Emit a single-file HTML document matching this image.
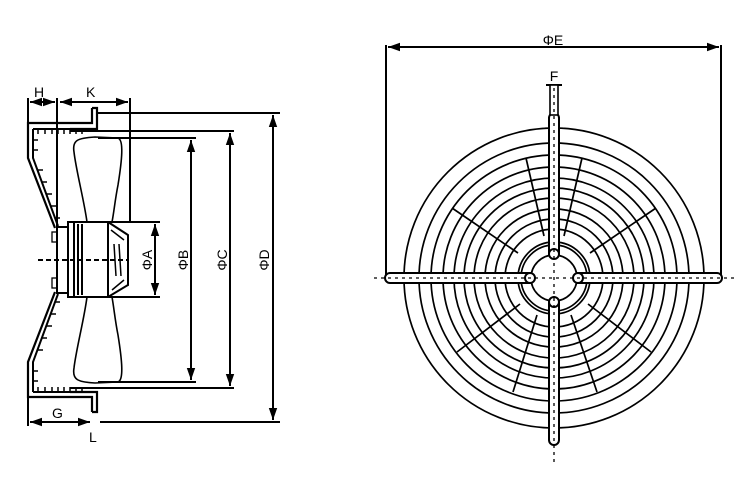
<!DOCTYPE html>
<html><head><meta charset="utf-8"><style>
html,body{margin:0;padding:0;background:#fff;}
svg{display:block;}
text{font-family:"Liberation Sans",sans-serif;font-size:14px;fill:#000;}
</style></head><body>
<svg width="750" height="500" viewBox="0 0 750 500" xmlns="http://www.w3.org/2000/svg">
<defs>
<marker id="ar" viewBox="0 0 10 10" refX="10" refY="5" markerWidth="6" markerHeight="6" orient="auto-start-reverse"><path d="M0,1.5 L10,5 L0,8.5 z" fill="#000"/></marker>
</defs>
<g stroke="#000" fill="none" stroke-width="2">
<!-- LEFT VIEW -->
<line x1="28" y1="98" x2="28" y2="123"/>
<line x1="57" y1="98" x2="57" y2="226"/>
<line x1="130" y1="98" x2="130" y2="222"/>
<line x1="30" y1="102" x2="55" y2="102" marker-start="url(#ar)" marker-end="url(#ar)"/>
<line x1="60" y1="102" x2="128" y2="102" marker-start="url(#ar)" marker-end="url(#ar)"/>
<path d="M92,108 L97,108 L97,129 L70,129 M92,108 L92,123 L28,123 L28,158 L55,228" stroke-width="2.2"/>
<path d="M33,129 L70,129 M33,129 L33,158 L58,226"/>
<path d="M92,412 L97,412 L97,392 L70,392 M92,412 L92,397 L28,397 L28,362 L55,292" stroke-width="2.2"/>
<path d="M33,392 L70,392 M33,392 L33,362 L58,294"/>
<g stroke-width="1.5">
<line x1="38" y1="129" x2="38" y2="134"/><line x1="45" y1="129" x2="45" y2="134"/><line x1="52" y1="129" x2="52" y2="134"/><line x1="58" y1="129" x2="58" y2="134"/><line x1="64" y1="129" x2="64" y2="134"/><line x1="70" y1="129" x2="70" y2="134"/><line x1="76" y1="129" x2="76" y2="134"/><line x1="82" y1="129" x2="82" y2="134"/>
<line x1="38" y1="392" x2="38" y2="387"/><line x1="45" y1="392" x2="45" y2="387"/><line x1="52" y1="392" x2="52" y2="387"/><line x1="58" y1="392" x2="58" y2="387"/><line x1="64" y1="392" x2="64" y2="387"/><line x1="70" y1="392" x2="70" y2="387"/><line x1="76" y1="392" x2="76" y2="387"/><line x1="82" y1="392" x2="82" y2="387"/>
<line x1="33" y1="140" x2="38" y2="140"/><line x1="33" y1="150" x2="38" y2="150"/><line x1="38" y1="170" x2="43" y2="170"/><line x1="42" y1="182" x2="47" y2="182"/><line x1="47" y1="194" x2="52" y2="194"/><line x1="51" y1="206" x2="56" y2="206"/><line x1="55" y1="218" x2="60" y2="218"/>
<line x1="33" y1="381" x2="38" y2="381"/><line x1="33" y1="371" x2="38" y2="371"/><line x1="38" y1="350" x2="43" y2="350"/><line x1="42" y1="338" x2="47" y2="338"/><line x1="47" y1="326" x2="52" y2="326"/><line x1="51" y1="314" x2="56" y2="314"/><line x1="55" y1="302" x2="60" y2="302"/>
</g>
<rect x="57" y="227" width="11" height="66"/>
<rect x="52" y="232" width="5" height="10" stroke-width="1.3"/>
<rect x="52" y="278" width="5" height="10" stroke-width="1.3"/>
<rect x="68" y="222" width="40" height="75"/>
<line x1="74" y1="222" x2="74" y2="297"/><line x1="78" y1="224" x2="78" y2="295"/><line x1="82" y1="224" x2="82" y2="295"/>
<path d="M108,222 L128,235 L128,285 L108,297"/>
<path d="M111,230 L124,240 M112,290 L124,280 M114,244 L116,276 M119,244 L121,276" stroke-width="1.5"/>
<path d="M87,222 C84,200 76,170 74,152 C72,140 78,138 95,137 L118,138 C124,140 122,160 118,185 C115,200 114,212 112,222" stroke-width="1.6"/>
<path d="M87,297 C84,320 76,350 74,368 C72,380 78,382 95,383 L118,382 C124,380 122,360 118,335 C115,320 114,308 112,297" stroke-width="1.6"/>
<line x1="38" y1="260" x2="128" y2="260" stroke-dasharray="5,3"/>
<line x1="108" y1="222" x2="160" y2="222"/><line x1="108" y1="297" x2="160" y2="297"/>
<line x1="155" y1="224" x2="155" y2="295" marker-start="url(#ar)" marker-end="url(#ar)"/>
<line x1="98" y1="138" x2="196" y2="138"/><line x1="98" y1="382" x2="196" y2="382"/>
<line x1="191" y1="140" x2="191" y2="380" marker-start="url(#ar)" marker-end="url(#ar)"/>
<line x1="70" y1="131" x2="234" y2="131"/><line x1="70" y1="388" x2="234" y2="388"/>
<line x1="230" y1="133" x2="230" y2="386" marker-start="url(#ar)" marker-end="url(#ar)"/>
<line x1="98" y1="113" x2="280" y2="113"/><line x1="100" y1="422" x2="280" y2="422"/>
<line x1="273" y1="115" x2="273" y2="420" marker-start="url(#ar)" marker-end="url(#ar)"/>
<line x1="28" y1="397" x2="28" y2="426"/>
<line x1="30" y1="422" x2="90" y2="422" marker-start="url(#ar)" marker-end="url(#ar)"/>

<!-- FRONT VIEW -->
<line x1="386" y1="45" x2="386" y2="278"/>
<line x1="721" y1="45" x2="721" y2="278"/>
<line x1="388" y1="47" x2="719" y2="47" marker-start="url(#ar)" marker-end="url(#ar)"/>
<line x1="546" y1="85" x2="562" y2="85"/>
<g stroke-width="1.7">
<circle cx="554" cy="278" r="150"/>
<circle cx="554" cy="278" r="135"/>
<circle cx="554" cy="278" r="123"/>
<circle cx="554" cy="278" r="111"/>
<circle cx="554" cy="278" r="100"/>
<circle cx="554" cy="278" r="90"/>
<circle cx="554" cy="278" r="80"/>
<circle cx="554" cy="278" r="69"/>
<circle cx="554" cy="278" r="59"/>
<circle cx="554" cy="278" r="49"/>
<circle cx="554" cy="278" r="36"/>
<circle cx="554" cy="278" r="33"/>
<line x1="544" y1="236" x2="526" y2="158"/>
<line x1="564" y1="236" x2="582" y2="158"/>
<line x1="518" y1="253" x2="452" y2="208"/>
<line x1="590" y1="253" x2="656" y2="208"/>
<line x1="520" y1="304" x2="457" y2="352"/>
<line x1="588" y1="304" x2="651" y2="352"/>
<line x1="537" y1="315" x2="513" y2="392"/>
<line x1="571" y1="315" x2="597" y2="392"/>
</g>
<rect x="385" y="273" width="337" height="10" rx="5" fill="#fff" stroke-width="2"/>
<rect x="549" y="113" width="10" height="332" rx="5" fill="#fff" stroke-width="2"/>
<rect x="550" y="85" width="8" height="30" fill="#fff" stroke-width="1.6"/>
<circle cx="554" cy="278" r="23" fill="#fff" stroke-width="1.7"/>
<circle cx="554" cy="254" r="5" fill="#fff"/>
<circle cx="554" cy="302" r="5" fill="#fff"/>
<circle cx="530" cy="278" r="5" fill="#fff"/>
<circle cx="578" cy="278" r="5" fill="#fff"/>
<g stroke-width="1.3" stroke-dasharray="3,4">
<line x1="374" y1="278" x2="734" y2="278"/>
<line x1="554" y1="88" x2="554" y2="462"/>
</g>
</g>
<text x="34" y="97">H</text>
<text x="86" y="97">K</text>
<text x="52" y="418">G</text>
<text x="89" y="442">L</text>
<text x="553" y="45" text-anchor="middle">ΦE</text>
<text x="554" y="81" text-anchor="middle">F</text>
<text transform="translate(152,260) rotate(-90)" text-anchor="middle">ΦA</text>
<text transform="translate(188,260) rotate(-90)" text-anchor="middle">ΦB</text>
<text transform="translate(227,260) rotate(-90)" text-anchor="middle">ΦC</text>
<text transform="translate(269,260) rotate(-90)" text-anchor="middle">ΦD</text>
</svg>
</body></html>
